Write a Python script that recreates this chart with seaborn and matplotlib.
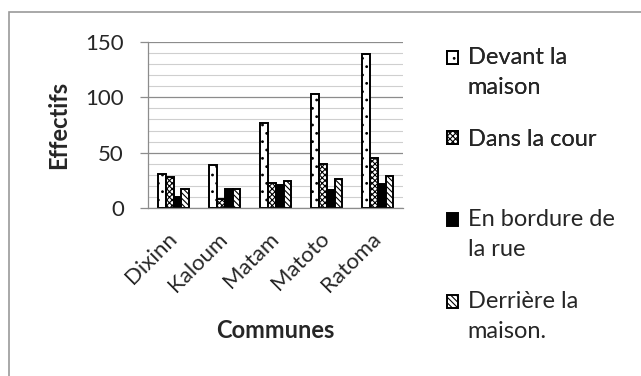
import numpy as np
import pandas as pd
import seaborn as sns
import matplotlib.pyplot as plt
from matplotlib.patches import Rectangle
from matplotlib.ticker import MultipleLocator
from matplotlib.legend_handler import HandlerPatch

# Data
communes = ["Dixinn", "Kaloum", "Matam", "Matoto", "Ratoma"]
lieux = ["Devant la maison", "Dans la cour", "En bordure de la rue", "Derrière la maison."]
devant = [31, 39, 77, 103, 139]
dans_cour = [28, 8, 23, 40, 45]
bordure = [10, 17, 21, 16, 22]
derriere = [17, 17, 24, 26, 29]

legend_labels = ["Devant la\nmaison", "Dans la cour", "En bordure de\nla rue", "Derrière la\nmaison."]
hatches = ["..", "xxxxxx", "..", "\\\\\\\\\\\\"]
faces = ["white", "white", "black", "white"]

LEG_SIZE = 17
LINESP = 1.55


def build_frame():
    rows = []
    for lieu, vals in zip(lieux, [devant, dans_cour, bordure, derriere]):
        for c, v in zip(communes, vals):
            rows.append({"Communes": c, "Lieu": lieu, "Effectifs": v})
    return pd.DataFrame(rows)


class FirstLineHandler(HandlerPatch):
    """Put the legend box next to the first line of a two-line label (Excel style)."""

    def __init__(self, nlines, **kw):
        super().__init__(**kw)
        self.nlines = nlines

    def create_artists(self, legend, orig_handle, xdescent, ydescent, width, height,
                       fontsize, trans):
        shift = (self.nlines - 1) * 0.5 * 1.3 * fontsize
        p = Rectangle((-xdescent, -ydescent + shift), width, height)
        self.update_prop(p, orig_handle, legend)
        p.set_transform(trans)
        return [p]


def main():
    df = build_frame()
    sns.set_style("white")
    plt.rcParams["font.family"] = ["Lato", "DejaVu Sans"]
    plt.rcParams["hatch.linewidth"] = 0.8

    fig = plt.figure(figsize=(6.41, 3.76), dpi=100)
    ax = fig.add_axes([0.231, 0.447, 0.398, 0.441])

    sns.barplot(data=df, x="Communes", y="Effectifs", hue="Lieu", hue_order=lieux,
                order=communes, width=0.62, gap=0, ax=ax, legend=False,
                edgecolor="black", linewidth=1.4)

    # style bars per series
    for cont, face, hatch in zip(ax.containers, faces, hatches):
        for bar in cont:
            bar.set_facecolor(face)
            bar.set_hatch(hatch)
            bar.set_edgecolor("black")

    ax.set_ylim(0, 150)
    ax.yaxis.set_major_locator(MultipleLocator(50))
    ax.yaxis.set_minor_locator(MultipleLocator(10))
    ax.grid(which="major", axis="y", color="#8c8c8c", linewidth=0.9)
    ax.grid(which="minor", axis="y", color="#cfcfcf", linewidth=0.8)
    ax.set_axisbelow(True)
    for s in ["top", "right"]:
        ax.spines[s].set_visible(False)
    for s in ["left", "bottom"]:
        ax.spines[s].set_color("#8c8c8c")
        ax.spines[s].set_linewidth(0.9)
    ax.tick_params(axis="y", which="major", direction="out", length=5.5, width=0.9,
                   color="#8c8c8c", labelsize=16, pad=12, left=True)
    ax.tick_params(axis="y", which="minor", length=0)
    ax.tick_params(axis="x", length=0, labelsize=16, pad=20)
    plt.setp(ax.get_xticklabels(), rotation=45, ha="right", va="center",
             rotation_mode="anchor")
    ax.set_xlabel("Communes", fontsize=17, fontweight="bold")
    ax.set_ylabel("Effectifs", fontsize=17, fontweight="bold")
    ax.xaxis.set_label_coords(0.5, -0.67)
    ax.yaxis.set_label_coords(-0.305, 0.5)

    # legend split in two blocks like the Excel layout
    handles = [cont[0] for cont in ax.containers]
    kw = dict(frameon=False, fontsize=LEG_SIZE, handlelength=0.47, handleheight=0.47,
              handletextpad=0.42, labelspacing=1.28, loc="upper left",
              borderpad=0, borderaxespad=0)
    hmap = {h: FirstLineHandler(lab.count("\n") + 1) for h, lab in zip(handles, legend_labels)}
    leg1 = fig.legend(handles[:2], legend_labels[:2], bbox_to_anchor=(0.697, 0.875),
                      handler_map=hmap, **kw)
    leg2 = fig.legend(handles[2:], legend_labels[2:], bbox_to_anchor=(0.697, 0.444),
                      handler_map=hmap, **kw)
    for leg in (leg1, leg2):
        for t in leg.get_texts():
            t.set_linespacing(LINESP)
    fig.add_artist(leg1)

    # outer frame
    fig.patches.append(Rectangle((9 / 641, -0.1), 1.1, 1.1 - 12 / 376,
                                 transform=fig.transFigure, fill=False,
                                 edgecolor="#9a9a9a", linewidth=1.2))

    fig.savefig("out.png", dpi=100)


if __name__ == "__main__":
    main()
